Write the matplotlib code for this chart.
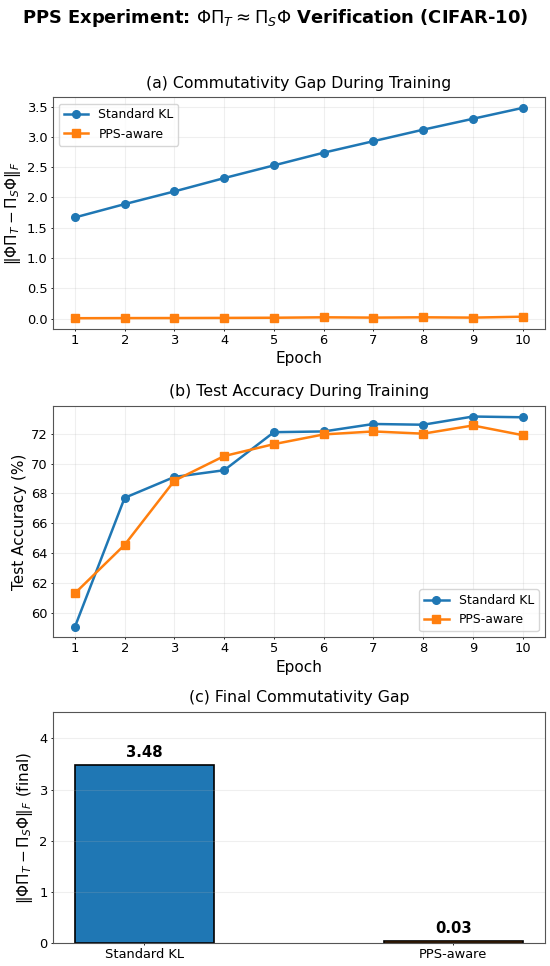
import matplotlib
matplotlib.use("Agg")
from matplotlib import pyplot as plt

epochs = [1, 2, 3, 4, 5, 6, 7, 8, 9, 10]
gap_standard = [1.67, 1.89, 2.10, 2.32, 2.53, 2.74, 2.93, 3.12, 3.30, 3.48]
gap_pps = [0.005, 0.007, 0.008, 0.010, 0.013, 0.020, 0.015, 0.020, 0.015, 0.03]
acc_standard = [59.05, 67.7, 69.1, 69.55, 72.1, 72.15, 72.65, 72.6, 73.15, 73.1]
acc_pps = [61.3, 64.55, 68.85, 70.5, 71.3, 71.95, 72.15, 72.0, 72.55, 71.9]
methods = ["Standard KL", "PPS-aware"]
final_gap = [3.48, 0.03]

blue = "#1f77b4"
orange = "#ff7f0e"
gap_label = r"$\|\Phi\Pi_T - \Pi_S\Phi\|_F$"

TICK, LAB, TIT, LEG = 9.4, 11, 11.3, 8.9

fig = plt.figure(figsize=(5.5, 9.66), dpi=100)
fig.suptitle(r"PPS Experiment: $\Phi\Pi_T \approx \Pi_S\Phi$ Verification (CIFAR-10)",
             fontsize=12.9, fontweight="bold", y=0.993)

L, W, H = 0.0955, 0.8955, 0.2395
ax1 = fig.add_axes([L, 0.6597, W, H])
ax2 = fig.add_axes([L, 0.3402, W, H])
ax3 = fig.add_axes([L, 0.0238, W, H])

for ax in (ax1, ax2, ax3):
    ax.tick_params(labelsize=TICK, length=1.7, width=0.6, pad=1.9)
    for s in ax.spines.values():
        s.set_linewidth(0.8)
        s.set_edgecolor("#555555")

# (a) gap per epoch
ax1.plot(epochs, gap_standard, "o-", color=blue, lw=1.8, ms=5.5, label="Standard KL")
ax1.plot(epochs, gap_pps, "s-", color=orange, lw=1.8, ms=5.5, label="PPS-aware")
ax1.set_xlabel("Epoch", fontsize=LAB, labelpad=3)
ax1.set_ylabel(gap_label, fontsize=LAB, labelpad=3)
ax1.set_title("(a) Commutativity Gap During Training", fontsize=TIT, pad=7)
ax1.set_xticks(epochs)
ax1.legend(loc="upper left", fontsize=LEG)
ax1.grid(True, alpha=0.2)

# (b) accuracy
ax2.plot(epochs, acc_standard, "o-", color=blue, lw=1.8, ms=5.5, label="Standard KL")
ax2.plot(epochs, acc_pps, "s-", color=orange, lw=1.8, ms=5.5, label="PPS-aware")
ax2.set_xlabel("Epoch", fontsize=LAB, labelpad=3)
ax2.set_ylabel("Test Accuracy (%)", fontsize=LAB, labelpad=3)
ax2.set_title("(b) Test Accuracy During Training", fontsize=TIT, pad=7)
ax2.set_xticks(epochs)
ax2.legend(loc="lower right", fontsize=LEG)
ax2.grid(True, alpha=0.2)

# (c) final gap
bars = ax3.bar(methods, final_gap, width=0.45, color=[blue, orange],
               edgecolor="black", linewidth=1.2)
for b, v in zip(bars, final_gap):
    ax3.text(b.get_x() + b.get_width() / 2, v + 0.1, f"{v:.2f}",
             ha="center", va="bottom", fontsize=10.7, fontweight="bold")
ax3.set_ylim(0, max(final_gap) * 1.3)
ax3.set_ylabel(gap_label + " (final)", fontsize=LAB, labelpad=3)
ax3.set_title("(c) Final Commutativity Gap", fontsize=TIT, pad=7)
ax3.grid(True, axis="y", alpha=0.2)

fig.savefig("out.png", dpi=100)
